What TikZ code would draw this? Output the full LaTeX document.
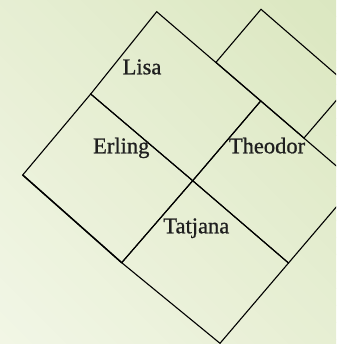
\documentclass[tikz,border=0pt]{standalone}
\usepackage{fontspec}
\setmainfont{Liberation Serif}
\newfontfamily\lblfont[FakeBold=0.8]{Liberation Serif}
\definecolor{bgLL}{RGB}{242,246,230}
\definecolor{bgUR}{RGB}{219,231,192}
\begin{document}
\begin{tikzpicture}[x=1pt,y=-1pt,
  box/.style={draw=black,line width=1.1pt,line join=miter},
  lbl/.style={anchor=base,inner sep=0pt,font=\lblfont\fontsize{22.5}{27}\selectfont,text=black!88}]
\useasboundingbox (0,0) rectangle (336,344);
\clip (0,0) rectangle (336,344);
% background: diagonal gradient from lower left to upper right
\foreach \i in {0,...,39}{
  \pgfmathsetmacro{\ta}{-344+\i*17}
  \pgfmathsetmacro{\tb}{\ta+18}
  \pgfmathsetmacro{\pct}{(\i+0.5)*2.5}
  \fill[bgUR!\pct!bgLL] ({\ta/2-400},{-\ta/2-400}) -- ({\ta/2+800},{-\ta/2+800})
     -- ({\tb/2+800},{-\tb/2+800}) -- ({\tb/2-400},{-\tb/2-400}) -- cycle;
}
% vertices
\coordinate (lt) at (156.7,11.7);
\coordinate (lr) at (260.7,101);
\coordinate (ll) at (90.7,94);
\coordinate (c)  at (192.7,180.7);
\coordinate (el) at (22.7,175);
\coordinate (eb) at (121.7,262.7);
\coordinate (tr) at (288.5,263);
\coordinate (tb) at (220,343.3);
\coordinate (hr) at (356.5,183.3);
\coordinate (ft) at (261,9.3);
\coordinate (fl) at (216,62.3);
\coordinate (fb) at (304,138);
\coordinate (fr) at (349,85.6);
% boxes
\draw[box] (ft) -- (fr) -- (fb) -- (fl) -- cycle;
\draw[box] (lt) -- (lr) -- (c) -- (ll) -- cycle;
\draw[box] (ll) -- (c) -- (eb) -- (el) -- cycle;
\draw[box] (c) -- (tr) -- (tb) -- (eb) -- cycle;
\draw[box] (lr) -- (hr) -- (tr) -- (c) -- cycle;
\draw[box,line width=1.5pt] (el) -- (eb);
% labels
\node[lbl] (lisa) at (142,74.3) {Lisa};
\node[lbl] (erling) at (121.3,153.3) {Erling};
\node[lbl] (theodor) at (267,153.3) {Theodor};
\node[lbl] (tatjana) at (196.3,233.3) {Tatjana};
\end{tikzpicture}
\end{document}
